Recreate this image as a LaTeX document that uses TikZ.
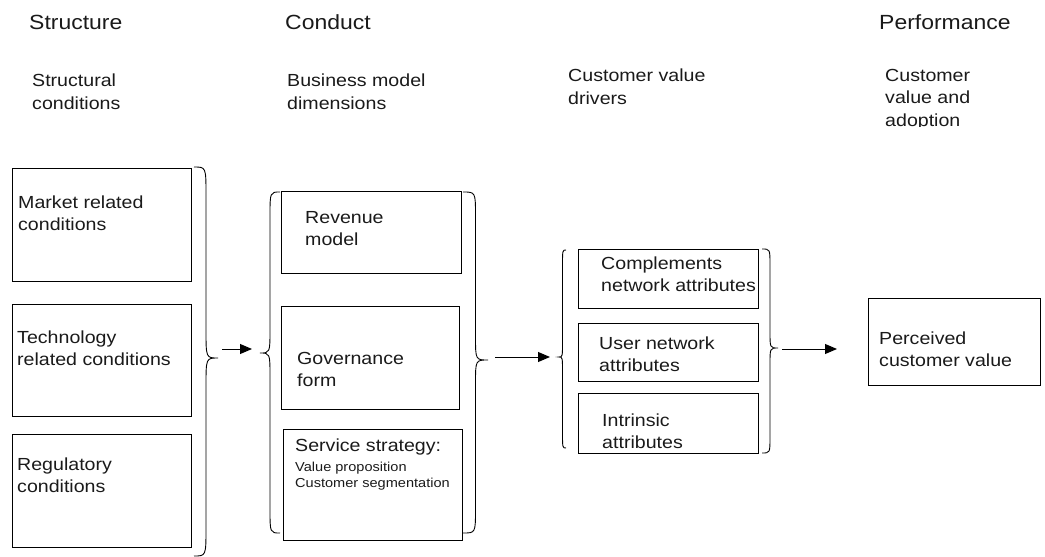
\documentclass[tikz,border=0pt]{standalone}
\usepackage{fontspec}
\setmainfont[FakeStretch=1.12]{Liberation Sans}
\usetikzlibrary{arrows.meta}
\definecolor{txt}{HTML}{1A1A1A}
\newcommand\mybrace[6]{%
  \pgfmathsetmacro\bxm{(#1+#2)/2}%
  \draw[bracest] (#1,#3) .. controls (\bxm,#3) .. (\bxm,#3+#6) -- (\bxm,#4-#6)
    .. controls (\bxm,#4) .. (#2,#4) .. controls (\bxm,#4) .. (\bxm,#4+#6)
    -- (\bxm,#5-#6) .. controls (\bxm,#5) .. (#1,#5);}
\begin{document}
\begin{tikzpicture}[x=1pt,y=-1pt,
  boxst/.style={draw=black, line width=1.1pt, anchor=north west, inner sep=0pt},
  bracest/.style={draw=black, line width=0.9pt},
  head/.style={anchor=base west, inner sep=0pt, text=txt, font=\fontsize{20.5}{24}\selectfont},
  sub/.style={anchor=base west, inner sep=0pt, align=left, text=txt, font=\fontsize{17.5}{22.5}\selectfont},
  btxt/.style={anchor=base west, inner sep=0pt, align=left, text=txt, font=\fontsize{17.5}{22}\selectfont},
  stxt/.style={anchor=base west, inner sep=0pt, align=left, text=txt, font=\fontsize{13}{16}\selectfont},
  arr/.style={draw=black, line width=1pt, -{Triangle[length=12pt,width=10pt]}}]
\useasboundingbox (0,0) rectangle (1045,557);
% headers
\node[head] (hs) at (29,29) {Structure};
\node[head] (hc) at (285,29) {Conduct};
\node[head] (hp) at (879,29) {Performance};
% sub headers (anchor = baseline of last line)
\node[sub] (ss) at (32,109) {Structural\\conditions};
\node[sub] (sc) at (287,109) {Business model\\dimensions};
\node[sub] (sv) at (568,104) {Customer value\\drivers};
\begin{scope}
\clip (860,0) rectangle (1045,126);
\node[sub] (sp) at (885,126) {Customer\\value and\\adoption};
\end{scope}
% structure boxes
\node[boxst, minimum width=179pt, minimum height=113pt] (m1) at (12,168) {};
\node[boxst, minimum width=179pt, minimum height=112pt] (m2) at (12,304) {};
\node[boxst, minimum width=179pt, minimum height=113pt] (m3) at (12,434) {};
\node[btxt] (m1t) at (18,230) {Market related\\conditions};
\node[btxt] (m2t) at (17,365) {Technology\\related conditions};
\node[btxt] (m3t) at (17,492) {Regulatory\\conditions};
% conduct boxes
\node[boxst, minimum width=180pt, minimum height=82pt] (c1) at (281,191) {};
\node[boxst, minimum width=178pt, minimum height=103pt] (c2) at (281,306) {};
\node[boxst, minimum width=179pt, minimum height=111pt] (c3) at (283,429) {};
\node[btxt] (c1t) at (305,245) {Revenue\\model};
\node[btxt] (c2t) at (297,386) {Governance\\form};
\node[btxt] (c3t) at (295,451) {Service strategy:};
\node[stxt] (c3s) at (295,487) {Value proposition\\Customer segmentation};
% value driver boxes
\node[boxst, minimum width=180pt, minimum height=59pt] (v1) at (578,249) {};
\node[boxst, minimum width=180pt, minimum height=58pt] (v2) at (578,323) {};
\node[boxst, minimum width=180pt, minimum height=60pt] (v3) at (578,393) {};
\node[btxt] (v1t) at (601,291) {Complements\\network attributes};
\node[btxt] (v2t) at (599,371) {User network\\attributes};
\node[btxt] (v3t) at (602,448) {Intrinsic\\attributes};
% performance box
\node[boxst, minimum width=172pt, minimum height=87pt] (p1) at (868,298) {};
\node[btxt] (p1t) at (879,366) {Perceived\\customer value};
% braces
\mybrace{194}{218}{167}{358}{556}{28}
\mybrace{280}{260}{192}{353}{533}{24}
\mybrace{463}{488}{192}{360}{533}{24}
\mybrace{566}{559}{250}{357}{448}{16}
\mybrace{762}{778}{249}{348}{453}{16}
% arrows
\coordinate (a1s) at (222,349);
\coordinate (a1e) at (252,349);
\coordinate (a2s) at (495,357);
\coordinate (a2e) at (550,357);
\coordinate (a3s) at (782,349);
\coordinate (a3e) at (837,349);
\draw[arr] (a1s) -- (a1e);
\draw[arr] (a2s) -- (a2e);
\draw[arr] (a3s) -- (a3e);
\end{tikzpicture}
\end{document}
